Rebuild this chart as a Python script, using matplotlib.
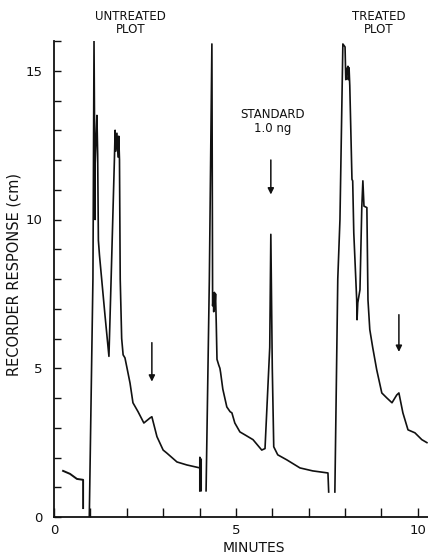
import numpy as np
import matplotlib.pyplot as plt
from matplotlib.ticker import MultipleLocator

# --- chart trace (minutes, cm) ---
lead_t = [0.25, 0.44, 0.63, 0.80, 0.80]
lead_r = [1.55, 1.45, 1.28, 1.25, 0.30]

untreated_t = [0.97, 1.07, 1.08, 1.10, 1.13, 1.12, 1.15, 1.18, 1.20, 1.22, 1.25,
               1.40, 1.51, 1.57, 1.66, 1.68, 1.70, 1.73, 1.76, 1.78, 1.80, 1.82,
               1.86, 1.90, 1.95, 2.00, 2.09, 2.17, 2.31, 2.47, 2.64, 2.69, 2.83,
               3.00, 3.10, 3.38, 3.65, 4.01, 4.01, 4.01]
untreated_r = [0.0, 8.0, 10.5, 16.0, 10.0, 11.5, 12.5, 13.5, 12.2, 9.3, 8.8,
               6.8, 5.4, 8.0, 12.0, 13.0, 12.3, 12.9, 12.1, 12.8, 12.0, 8.0,
               6.0, 5.45, 5.35, 5.05, 4.5, 3.84, 3.54, 3.16, 3.33, 3.37, 2.7,
               2.25, 2.15, 1.85, 1.75, 1.65, 2.0, 0.88]

standard_t = [4.18, 4.27, 4.34, 4.36, 4.38, 4.39, 4.41, 4.42, 4.44, 4.46, 4.48,
              4.53, 4.56, 4.58, 4.64, 4.75, 4.84, 4.89, 4.97, 5.11, 5.25, 5.47,
              5.71, 5.80, 5.93, 5.96, 6.00, 6.04, 6.15, 6.40, 6.76, 7.11, 7.53,
              7.55]
standard_r = [0.88, 8.0, 15.9, 7.1, 7.4, 6.9, 7.55, 7.0, 7.5, 6.5, 5.3,
              5.1, 5.0, 4.85, 4.3, 3.7, 3.54, 3.5, 3.16, 2.86, 2.76, 2.6,
              2.25, 2.3, 5.7, 9.5, 5.0, 2.36, 2.09, 1.92, 1.65, 1.55, 1.48,
              0.84]

treated_t = [7.72, 7.80, 7.86, 7.94, 8.00, 8.02, 8.05, 8.08, 8.09, 8.11, 8.13,
             8.19, 8.21, 8.24, 8.32, 8.33, 8.35, 8.41, 8.46, 8.49, 8.52, 8.60,
             8.63, 8.68, 8.76, 8.87, 9.01, 9.15, 9.29, 9.42, 9.48, 9.59, 9.73,
             9.92, 10.11, 10.25]
treated_r = [0.84, 8.0, 10.0, 15.9, 15.8, 14.7, 15.05, 15.15, 14.7, 15.1, 14.5,
             11.35, 11.3, 9.55, 7.3, 6.63, 7.2, 7.64, 10.4, 11.3, 10.45, 10.4,
             7.3, 6.3, 5.7, 4.95, 4.17, 4.0, 3.84, 4.1, 4.17, 3.5, 2.93,
             2.83, 2.6, 2.5]

# arrows marking the compound
arrow_t = [2.69, 5.96, 9.48]
arrow_top = [5.86, 12.0, 6.8]
arrow_bottom = [4.55, 10.84, 5.55]

labels = ['UNTREATED\nPLOT', 'STANDARD\n1.0 ng', 'TREATED\nPLOT']
label_t = [2.1, 6.0, 8.93]
label_r = [16.6, 13.3, 16.6]

fig = plt.figure(figsize=(4.28, 5.59), dpi=100)
ax = fig.add_axes([54/428, 42/559, 374/428, 476/559])

ink = '#111111'
ax.plot(lead_t, lead_r, color=ink, lw=1.4)
ax.plot(untreated_t, untreated_r, color=ink, lw=1.2)
ax.plot(standard_t, standard_r, color=ink, lw=1.2)
ax.plot(treated_t, treated_r, color=ink, lw=1.2)
ax.vlines(untreated_t[-1], 0.88, 2.0, color=ink, lw=2.2)

for x, top, bot in zip(arrow_t, arrow_top, arrow_bottom):
    ax.annotate('', xy=(x, bot), xytext=(x, top),
                arrowprops=dict(arrowstyle='-|>', color=ink, lw=1.1,
                                mutation_scale=9, shrinkA=0, shrinkB=0))

for s, x, y in zip(labels, label_t, label_r):
    ax.text(x, y, s, ha='center', va='center', fontsize=8.5,
            linespacing=1.05, color=ink)

ax.set_xlim(0, 10.28)
ax.set_ylim(0, 16)
for side in ['top', 'right']:
    ax.spines[side].set_visible(False)
for side in ['left', 'bottom']:
    ax.spines[side].set_linewidth(1.3)
    ax.spines[side].set_color(ink)

ax.xaxis.set_major_locator(MultipleLocator(5))
ax.xaxis.set_minor_locator(MultipleLocator(1))
ax.yaxis.set_major_locator(MultipleLocator(5))
ax.yaxis.set_minor_locator(MultipleLocator(1))
ax.tick_params(axis='x', which='both', direction='in', length=6.5, width=1,
               pad=5, labelsize=9.5, colors=ink)
ax.tick_params(axis='y', which='both', direction='in', length=5, width=1,
               pad=8, labelsize=9.5, colors=ink)

ax.set_ylabel('RECORDER RESPONSE (cm)', fontsize=10.5, color=ink)
ax.yaxis.set_label_coords(-0.086, 0.51)
ax.set_xlabel('MINUTES', fontsize=10, color=ink)
ax.xaxis.set_label_coords(0.535, -0.05)

plt.savefig('out.png', dpi=100)
